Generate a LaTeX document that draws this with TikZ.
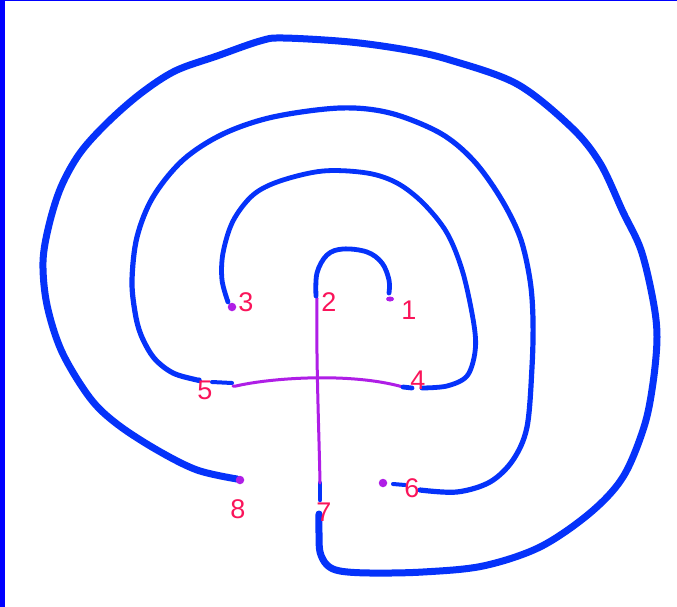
\documentclass[tikz,border=0pt]{standalone}
\usepackage{fontspec}
\setmainfont{Liberation Sans}
\begin{document}
\begin{tikzpicture}[x=1pt,y=-1pt,
  wire/.style={draw=penblue,line cap=round,line join=round},
  outerw/.style={wire,line width=7pt},
  midw/.style={wire,line width=5.2pt},
  innerw/.style={wire,line width=4.8pt},
  link/.style={draw=penpurple,line width=3pt,line cap=round},
  enddot/.style={circle,fill=penpurple,inner sep=0pt,minimum size=8.5pt},
  num/.style={text=penred,font=\fontsize{27}{27}\selectfont,inner sep=0pt}]
\definecolor{penblue}{RGB}{5,50,250}
\definecolor{penpurple}{RGB}{175,30,230}
\definecolor{penred}{RGB}{250,20,90}
\definecolor{framebl}{RGB}{0,0,255}
\useasboundingbox (0,0) rectangle (677,607);
\fill[white] (0,0) rectangle (677,607);
\fill[framebl] (0,0) rectangle (5,607);
\fill[framebl] (0,0) rectangle (677,1.5);

% end points
\coordinate (p8) at (240,480);
\coordinate (p3) at (232,307);
\coordinate (p6) at (383,483);
\coordinate (p1) at (390,299);
\coordinate (a7) at (320,500);
\coordinate (b7) at (320,483);
\coordinate (top2) at (317,298);
\coordinate (l5) at (233,386);
\coordinate (r4) at (403,387);

% outer spiral (8 -> 7)
\draw[outerw] plot[smooth,tension=0.55] coordinates {(237,479) (197,470) (157,450) (117,424) (90,398) (62,352) (47,305) (43,262) (49,225) (61,187) (80,153) (107,123) (140,94) (175,71) (217,56) (260,41) (283,38) (350,42) (407,50) (450,60) (517,84) (571,127) (600,163) (623,212) (641,250) (653,300) (657,337) (653,383) (644,427) (623,477) (590,513) (540,547) (483,566) (423,572) (370,573) (340,571) (327,565) (320,552) (319,533) (319,514)};
\draw[outerw,line width=4.5pt] (a7) -- (b7);
% purple vertical 7 -> 2
\draw[link] (b7) .. controls (319,430) and (316,360) .. (top2);
% inner arc 2 -> 1
\draw[innerw] plot[smooth,tension=0.6] coordinates {(316,296) (317,273) (327,255) (343,249) (367,252) (382,263) (389,280) (389,293)};
\fill[penpurple] (p1) ellipse (4pt and 2.5pt);

% middle spiral (6 -> 5)
\node[enddot] (d6) at (p6) {};
\draw[midw,line width=4pt] (393,484) -- (405,485);
\draw[midw] plot[smooth,tension=0.55] coordinates {(420,490) (457,492) (490,482) (513,460) (527,427) (532,367) (533,320) (530,280) (520,237) (500,197) (473,160) (440,133) (390,113) (340,108) (273,117) (223,134) (183,160) (153,197) (137,237) (132,280) (135,312) (141,335) (154,358) (173,373) (197,380) (199,380)};
\draw[midw,line width=4pt] (212,382) -- (232,383);
% purple horizontal 5 -> 4
\draw[link] (l5) -- (236,386) .. controls (270,378) and (350,372) .. (r4);

% inner spiral (3 -> 4)
\node[enddot] (d3) at (p3) {};
\draw[innerw] plot[smooth,tension=0.55] coordinates {(228,302) (222,280) (223,253) (233,221) (253,195) (280,181) (323,171) (367,173) (397,183) (423,203) (447,233) (463,273) (474,325) (475,352) (467,376) (447,386) (422,388)};
\draw[innerw] (r4) -- (412,388);

\node[enddot] (d8) at (p8) {};

% labels
\node[num] (n1) at (409,310) {1};
\node[num] (n2) at (329,302) {2};
\node[num] (n3) at (246,302) {3};
\node[num] (n4) at (418,380) {4};
\node[num] (n5) at (205,390) {5};
\node[num] (n6) at (412,488) {6};
\node[num] (n7) at (324,512) {7};
\node[num] (n8) at (238,509) {8};
\end{tikzpicture}
\end{document}
